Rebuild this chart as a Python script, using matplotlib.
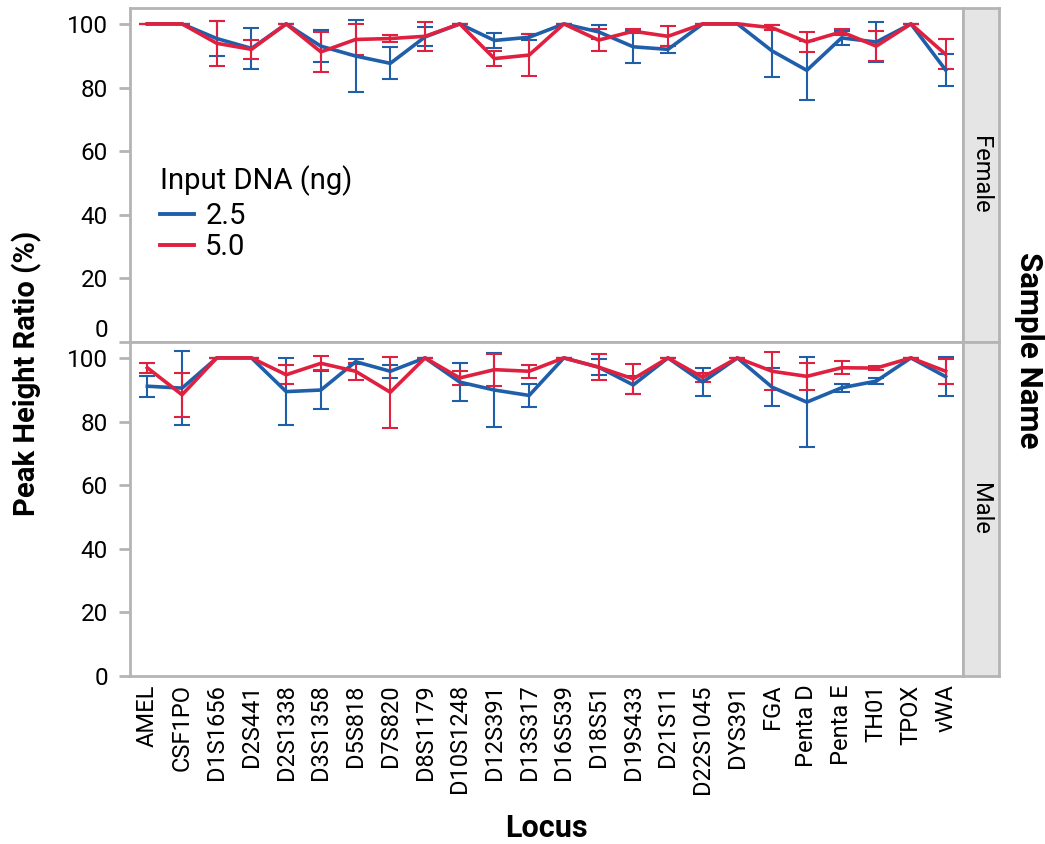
import matplotlib.pyplot as plt
from matplotlib import font_manager
from matplotlib.lines import Line2D
import numpy as np

plt.rcParams['font.family'] = ['Roboto', 'DejaVu Sans']

# narrow face for tick labels if present
try:
    font_manager.findfont("Liberation Sans Narrow", fallback_to_default=False)
    tick_font = ["Liberation Sans Narrow", "DejaVu Sans"]
    xt_size, yt_size = 19.5, 18.5
except ValueError:
    tick_font = ["Roboto", "DejaVu Sans"]
    xt_size, yt_size = 17, 17.5

loci = ["AMEL", "CSF1PO", "D1S1656", "D2S441", "D2S1338", "D3S1358", "D5S818",
        "D7S820", "D8S1179", "D10S1248", "D12S391", "D13S317", "D16S539", "D18S51",
        "D19S433", "D21S11", "D22S1045", "DYS391", "FGA", "Penta D", "Penta E",
        "TH01", "TPOX", "vWA"]

# Female, 2.5 ng
female_25 = [100, 100, 95.4, 92.3, 100, 93.0, 89.9, 87.6, 95.9, 100, 94.8, 95.8, 100,
             97.5, 92.8, 92.0, 100, 100, 91.5, 85.4, 95.6, 94.3, 100, 85.5]
female_25_sd = [0, 0, 5.5, 6.4, 0, 5.0, 11.2, 5.0, 3.0, 0, 2.4, 0.9, 0,
                2.2, 5.1, 1.0, 0, 0, 8.2, 9.3, 2.1, 6.3, 0, 5.0]
# Female, 5.0 ng
female_50 = [100, 100, 93.9, 92.0, 100, 91.2, 95.1, 95.4, 96.1, 100, 89.1, 90.2, 100,
             94.9, 97.7, 96.1, 100, 100, 98.8, 94.3, 97.5, 93.0, 100, 90.4]
female_50_sd = [0, 0, 7.0, 3.0, 0, 6.4, 5.0, 1.0, 4.5, 0, 2.4, 6.6, 0,
                3.4, 0.6, 3.2, 0, 0, 0.7, 3.0, 0.9, 4.8, 0, 4.7]
# Male, 2.5 ng
male_25 = [91.1, 90.5, 100, 100, 89.4, 89.9, 98.8, 95.8, 100, 92.4, 89.9, 88.2, 100,
           97.1, 91.5, 100, 92.4, 100, 90.8, 86.1, 90.6, 92.7, 100, 94.1]
male_25_sd = [3.3, 11.7, 0, 0, 10.5, 6.0, 0.7, 2.0, 0, 6.1, 11.5, 3.7, 0,
              2.6, 2.8, 0, 4.3, 0, 6.0, 14.1, 1.3, 1.0, 0, 6.1]
# Male, 5.0 ng
male_50 = [96.9, 88.4, 100, 100, 94.7, 98.3, 95.8, 89.2, 100, 93.7, 96.3, 95.8, 100,
           97.1, 93.4, 100, 93.9, 100, 95.8, 94.2, 96.9, 96.8, 100, 95.8]
male_50_sd = [1.5, 7.0, 0, 0, 3.0, 2.2, 2.6, 11.1, 0, 2.2, 5.0, 2.0, 0,
              4.0, 4.7, 0, 1.4, 0, 5.9, 4.2, 2.1, 0.7, 0, 4.0]

blue = "#1F5FAA"
red = "#E0203F"
grey = "#B4B4B4"

fig = plt.figure(figsize=(10.45, 8.44), dpi=100)
left, right = 130 / 1045, 963 / 1045
ax_top = fig.add_axes([left, 1 - 342 / 844, right - left, 334 / 844])
ax_bot = fig.add_axes([left, 1 - 676 / 844, right - left, 334 / 844])

x = np.arange(len(loci))
panels = [(ax_top, female_25, female_25_sd, female_50, female_50_sd, "Female"),
          (ax_bot, male_25, male_25_sd, male_50, male_50_sd, "Male")]

for ax, v25, s25, v50, s50, name in panels:
    ax.errorbar(x, v25, yerr=s25, color=blue, lw=2.6, elinewidth=1.5,
                capsize=6, capthick=1.5)
    ax.errorbar(x, v50, yerr=s50, color=red, lw=2.6, elinewidth=1.5,
                capsize=6, capthick=1.5)
    ax.set_xlim(-0.5, len(loci) - 0.5)
    ax.set_ylim(0, 105)
    ax.set_yticks([0, 20, 40, 60, 80, 100])
    for s in ax.spines.values():
        s.set_color(grey)
        s.set_linewidth(2)
    ax.tick_params(axis="y", colors=grey, labelcolor="black", labelsize=yt_size,
                   length=8, width=2, pad=8)
    ax.tick_params(axis="x", length=0)
    for lab in ax.get_yticklabels():
        lab.set_family(tick_font)

    # facet strip on the right
    pos = ax.get_position()
    strip = fig.add_axes([pos.x1, pos.y0, 36 / 1045, pos.height])
    strip.set_facecolor("#E5E5E5")
    strip.set_xticks([])
    strip.set_yticks([])
    for s in strip.spines.values():
        s.set_color(grey)
        s.set_linewidth(2)
    strip.text(0.5, 0.5, name, rotation=-90, ha="center", va="center",
               fontsize=17, transform=strip.transAxes)

# the top panel's "0" sits a little above its tick
ax_top.get_yticklabels()[0].set_va("bottom")

ax_top.set_xticks(x)
ax_top.set_xticklabels([])
ax_bot.set_xticks(x)
ax_bot.set_xticklabels(loci, rotation=90, fontsize=xt_size, family=tick_font)
ax_bot.tick_params(axis="x", pad=6)

handles = [Line2D([], [], color=blue, lw=2.8), Line2D([], [], color=red, lw=2.8)]
leg = ax_top.legend(handles, ["2.5", "5.0"], title="Input DNA (ng)",
                    loc="upper left", bbox_to_anchor=(0.036, 0.53), frameon=False,
                    fontsize=21, title_fontsize=21, handlelength=1.15,
                    handletextpad=0.4, labelspacing=0.1, borderaxespad=0,
                    borderpad=0)
leg._legend_box.align = "left"
leg._legend_box.sep = 4.5

fig.text(0.026, 0.558, "Peak Height Ratio (%)", rotation=90, ha="center",
         va="center", fontsize=21, fontweight="bold")
fig.text((left + right) / 2, 0.019, "Locus", ha="center", va="center",
         fontsize=22, fontweight="bold")
fig.text(0.985, 1 - 350 / 844, "Sample Name", rotation=-90, ha="center",
         va="center", fontsize=22.5, fontweight="bold")

fig.savefig("out.png", dpi=100)
